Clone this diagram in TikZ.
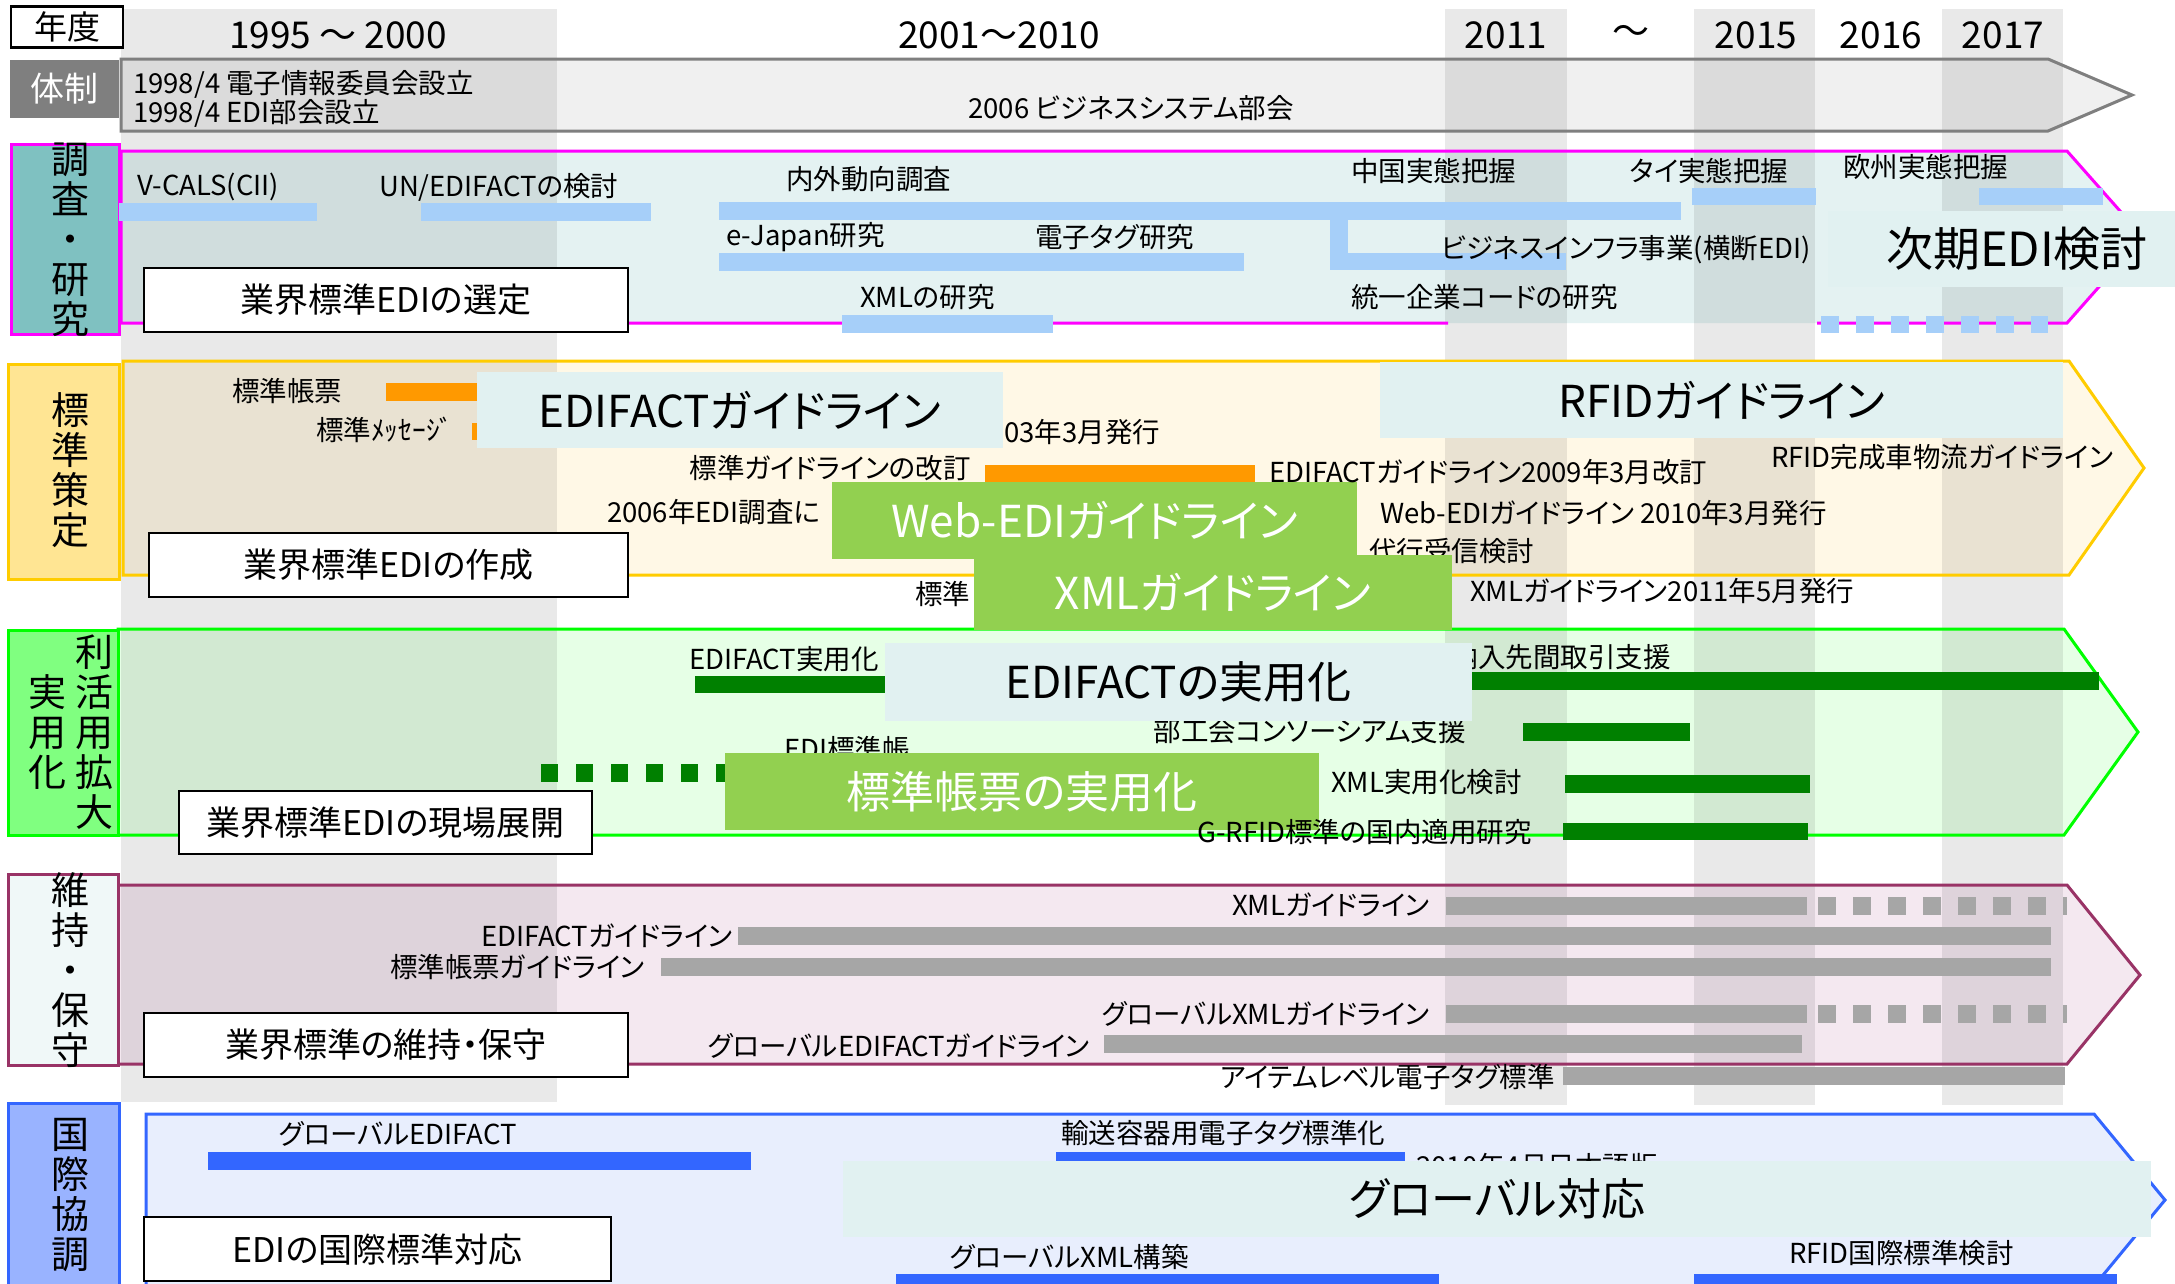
\documentclass[tikz,border=0pt]{standalone}
\usepackage{fontspec}
\setmainfont{Noto Sans CJK JP}[RawFeature=+palt]
\newcommand\fsz[1]{\fontsize{#1pt}{#1pt}\selectfont}
\definecolor{cGrayLab}{HTML}{7F7F7F}
\definecolor{cGrayFill}{HTML}{F0F0F0}
\definecolor{cMag}{HTML}{FF00FF}
\definecolor{cTealLab}{HTML}{7FC1C1}
\definecolor{cTealRow}{HTML}{E4F2F2}
\definecolor{cTealBox}{HTML}{E1F1F1}
\definecolor{cLtBlue}{HTML}{A6CFF9}
\definecolor{cGold}{HTML}{FFCC00}
\definecolor{cYelLab}{HTML}{FFE593}
\definecolor{cYelRow}{HTML}{FFF8E6}
\definecolor{cOrange}{HTML}{FF9900}
\definecolor{cLGreen}{HTML}{92D050}
\definecolor{cGreenLine}{HTML}{00FF00}
\definecolor{cGreenLab}{HTML}{80FF80}
\definecolor{cGreenRow}{HTML}{E6FFE6}
\definecolor{cDGreen}{HTML}{008000}
\definecolor{cPlum}{HTML}{993366}
\definecolor{cPlumLab}{HTML}{F0F8F8}
\definecolor{cPlumRow}{HTML}{F4E8F0}
\definecolor{cBarGray}{HTML}{A6A6A6}
\definecolor{cBlue}{HTML}{3366FF}
\definecolor{cBlueLab}{HTML}{99B3FF}
\definecolor{cBlueRow}{HTML}{E8EEFD}
\begin{document}
\begin{tikzpicture}[x=1pt,y=-1pt,
  t/.style={inner sep=0pt,font=\fsz{27.5}},
  tw/.style={t,anchor=west},
  te/.style={t,anchor=east},
  yr/.style={inner sep=0pt,font=\fsz{37}},
  wbox/.style={draw=black,line width=2.5pt,fill=white,inner sep=0pt,font=\fsz{34}},
  bbox/.style={inner sep=0pt,font=\fsz{44},minimum height=76pt},
  vlab/.style={inner sep=0pt,align=center,font=\fontsize{38pt}{40pt}\selectfont},
  stripe/.style={fill=black,fill opacity=0.085},
  rowb/.style={line width=3pt,line join=miter},
  dashbar/.style={line width=18pt,dash pattern=on 18pt off 17pt}
]
\useasboundingbox (0,0) rectangle (2175,1283);
\clip (0,0) rectangle (2175,1283);
\fill[white] (0,0) rectangle (2175,1283);

% ---- row fills
\fill[cGrayFill] (121,59) -- (2048,59) -- (2132,95) -- (2048,131) -- (121,131) -- cycle;
\fill[cTealRow] (121,151) -- (2067,151) -- (2143,237) -- (2067,323) -- (121,323) -- cycle;
\fill[cYelRow] (123,361) -- (2069,361) -- (2144,468) -- (2069,575) -- (123,575) -- cycle;
\fill[cGreenRow] (118,629) -- (2064,629) -- (2138,732) -- (2064,835) -- (118,835) -- cycle;
\fill[cPlumRow] (118,885) -- (2067,885) -- (2140,975) -- (2067,1064) -- (118,1064) -- cycle;
\fill[cBlueRow] (146,1114) -- (2094,1114) -- (2165,1200) -- (2094,1286) -- (146,1286) -- cycle;

% ---- period stripes
\fill[stripe] (121,9) rectangle (557,1102);
\fill[stripe] (1445,9) rectangle (1567,1105);
\fill[stripe] (1694,9) rectangle (1815,1105);
\fill[stripe] (1942,9) rectangle (2063,1105);

% ---- row borders
\draw[rowb,cGrayLab] (121,59) -- (2048,59) -- (2132,95) -- (2048,131) -- (121,131) -- cycle;
\draw[rowb,cMag] (1448,323) -- (121,323) -- (121,151) -- (2067,151) -- (2143,237) -- (2067,323) -- (1817,323);
\draw[rowb,cGold] (123,361) -- (2069,361) -- (2144,468) -- (2069,575) -- (123,575) -- cycle;
\draw[rowb,cGreenLine] (118,629) -- (2064,629) -- (2138,732) -- (2064,835) -- (118,835) -- cycle;
\draw[rowb,cPlum] (118,885) -- (2067,885) -- (2140,975) -- (2067,1064) -- (118,1064) -- cycle;
\draw[rowb,cBlue] (146,1290) -- (146,1114) -- (2094,1114) -- (2165,1200) -- (2094,1286);

% ---- header
\node[draw=black,line width=2.5pt,fill=white,inner sep=0pt,minimum width=112pt,minimum height=41pt,font=\fsz{33}] (nendo) at (67,27) {年度};
\node[yr] (y1) at (338,35) {1995 ～ 2000};
\node[yr] (y2) at (999,35) {2001～2010};
\node[yr] (y3) at (1506,35) {2011};
\node[yr] (y4) at (1631,35) {～};
\node[yr] (y5) at (1756,35) {2015};
\node[yr] (y6) at (1881,35) {2016};
\node[yr] (y7) at (2003,35) {2017};

% ---- labels
\node[fill=cGrayLab,inner sep=0pt,minimum width=109pt,minimum height=58pt,text=white,font=\fsz{34}] (ltai) at (64.5,89) {体制};
\draw[rowb,cMag,fill=cTealLab] (11,144) rectangle (119,334);
\node[vlab] (lres) at (70,240) {調\\査\\・\\研\\究};
\draw[rowb,cGold,fill=cYelLab] (8,364) rectangle (119,579);
\node[vlab] (lstd) at (70,470) {標\\準\\策\\定};
\draw[rowb,cGreenLine,fill=cGreenLab] (8,630) rectangle (118,835);
\node[vlab] (luse1) at (47,732) {実\\用\\化};
\node[vlab] (luse2) at (94,732) {利\\活\\用\\拡\\大};
\draw[rowb,cPlum,fill=cPlumLab] (8,874) rectangle (118,1065);
\node[vlab] (lmnt) at (70,970) {維\\持\\・\\保\\守};
\draw[rowb,cBlue,fill=cBlueLab] (8,1103) rectangle (119,1295);
\node[vlab] (lint) at (70,1195) {国\\際\\協\\調};

% ---- 体制 row
\node[tw] (t01) at (133,84) {1998/4 電子情報委員会設立};
\node[tw] (t02) at (133,113) {1998/4 EDI部会設立};
\node[t] (t03) at (1131,108) {2006 ビジネスシステム部会};

% ---- 調査・研究 row
\fill[cLtBlue] (119,203) rectangle (317,221);
\fill[cLtBlue] (421,203) rectangle (651,221);
\fill[cLtBlue] (719,202) rectangle (1681,220);
\fill[cLtBlue] (1330,220) rectangle (1348,270);
\fill[cLtBlue] (1330,253) rectangle (1566,270);
\fill[cLtBlue] (719,253) rectangle (1244,271);
\fill[cLtBlue] (842,315) rectangle (1053,333);
\fill[cLtBlue] (1692,188) rectangle (1816,205);
\fill[cLtBlue] (1979,188) rectangle (2103,205);
\draw[cLtBlue,line width=17pt,dash pattern=on 18pt off 17pt] (1821,324) -- (2048,324);
\node[tw] (r1) at (137,187) {V-CALS(CII)};
\node[tw] (r2) at (379,187) {UN/EDIFACTの検討};
\node[tw] (r3) at (786,179) {内外動向調査};
\node[tw] (r4) at (726,237) {e-Japan研究};
\node[tw] (r5) at (1035,237) {電子タグ研究};
\node[tw] (r6) at (860,297) {XMLの研究};
\node[tw] (r7) at (1351,171) {中国実態把握};
\node[tw] (r8) at (1630,171) {タイ実態把握};
\node[tw] (r9) at (1843,167) {欧州実態把握};
\node[tw] (r10) at (1441,250) {ビジネスインフラ事業(横断EDI)};
\node[tw] (r11) at (1351,297) {統一企業コードの研究};
\node[bbox,fill=cTealBox,minimum width=378pt,font=\fsz{47}] (bnext) at (2017,249) {次期EDI検討};
\node[wbox,minimum width=484pt,minimum height=64pt] (wsel) at (386,300) {業界標準EDIの選定};

% ---- 標準策定 row
\fill[cOrange] (386,383) rectangle (480,401);
\fill[cOrange] (472,423) rectangle (490,440);
\fill[cOrange] (985,465) rectangle (1255,482);
\node[tw] (s1) at (232,391) {標準帳票};
\node[tw] (s2) at (316,430) {標準ﾒｯｾｰｼﾞ};
\node[bbox,fill=cTealBox,minimum width=526pt] (bedi) at (740,410) {EDIFACTガイドライン};
\node[tw] (s3) at (1004,432) {03年3月発行};
\node[te] (s4) at (971,468) {標準ガイドラインの改訂};
\node[tw] (s5) at (607,512) {2006年EDI調査に};
\node[bbox,fill=cLGreen,text=white,minimum width=525pt,minimum height=77pt] (bweb) at (1094.5,520.5) {Web-EDIガイドライン};
\node[tw] (s6) at (915,594) {標準};
\node[tw] (s7) at (1369,551) {代行受信検討};
\node[bbox,fill=cLGreen,text=white,minimum width=478pt,minimum height=75pt] (bxml) at (1213,592.5) {XMLガイドライン};
\node[tw] (s8) at (1269,472) {EDIFACTガイドライン2009年3月改訂};
\node[bbox,fill=cTealBox,minimum width=683pt] (brfid) at (1721.5,400) {RFIDガイドライン};
\node[tw] (s9) at (1771,457) {RFID完成車物流ガイドライン};
\node[tw] (s10) at (1380,513) {Web-EDIガイドライン 2010年3月発行};
\node[tw] (s11) at (1470,591) {XMLガイドライン2011年5月発行};
\node[wbox,minimum width=479pt,minimum height=64pt] (wmake) at (388.5,565) {業界標準EDIの作成};

% ---- 利活用拡大 row
\fill[cDGreen] (695,676) rectangle (900,693);
\fill[cDGreen] (1471,672) rectangle (2099,690);
\fill[cDGreen] (1523,723) rectangle (1690,741);
\fill[cDGreen] (1565,775) rectangle (1810,793);
\fill[cDGreen] (1563,823) rectangle (1808,840);
\draw[cDGreen,line width=18pt,dash pattern=on 17pt off 18pt] (541,773) -- (730,773);
\node[tw] (u1) at (689,659) {EDIFACT実用化};
\node[te] (u2) at (1671,657) {納入先間取引支援};
\node[te] (u3) at (1466,731) {部工会コンソーシアム支援};
\node[bbox,fill=cTealBox,minimum width=587pt,minimum height=78pt] (bedu) at (1178.5,682) {EDIFACTの実用化};
\node[tw] (u4) at (784,749) {EDI標準帳};
\node[bbox,fill=cLGreen,text=white,minimum width=594pt,minimum height=77pt] (bform) at (1022,791.5) {標準帳票の実用化};
\node[tw] (u5) at (1331,782) {XML実用化検討};
\node[tw] (u6) at (1197,832) {G-RFID標準の国内適用研究};
\node[wbox,minimum width=413pt,minimum height=63pt] (wfield) at (385.5,822.5) {業界標準EDIの現場展開};

% ---- 維持・保守 row
\fill[cBarGray] (1446,897) rectangle (1807,915);
\fill[cBarGray] (738,927) rectangle (2051,945);
\fill[cBarGray] (661,958) rectangle (2051,976);
\fill[cBarGray] (1446,1005) rectangle (1807,1023);
\fill[cBarGray] (1104,1035) rectangle (1802,1053);
\fill[cBarGray] (1563,1067) rectangle (2065,1085);
\draw[cBarGray,dashbar] (1818,906) -- (2067,906);
\draw[cBarGray,dashbar] (1818,1014) -- (2067,1014);
\node[te] (m1) at (1430,905) {XMLガイドライン};
\node[te] (m2) at (733,936) {EDIFACTガイドライン};
\node[te] (m3) at (645,967) {標準帳票ガイドライン};
\node[te] (m4) at (1430,1014) {グローバルXMLガイドライン};
\node[te] (m5) at (1090,1046) {グローバルEDIFACTガイドライン};
\node[te] (m6) at (1555,1077) {アイテムレベル電子タグ標準};
\node[wbox,minimum width=484pt,minimum height=64pt] (wmnt) at (386,1045) {業界標準の維持・保守};

% ---- 国際協調 row
\fill[cBlue] (208,1152) rectangle (751,1170);
\fill[cBlue] (1056,1152) rectangle (1405,1170);
\fill[cBlue] (896,1274) rectangle (1439,1295);
\fill[cBlue] (1694,1274) rectangle (2117,1295);
\node[tw] (g1) at (279,1134) {グローバルEDIFACT};
\node[tw] (g2) at (1061,1133) {輸送容器用電子タグ標準化};
\node[tw] (g3) at (1416,1166) {2010年4月日本語版};
\node[bbox,fill=cTealBox,minimum width=1308pt] (bglob) at (1497,1199) {グローバル対応};
\node[tw] (g4) at (950,1257) {グローバルXML構築};
\node[tw] (g5) at (1789,1253) {RFID国際標準検討};
\node[wbox,minimum width=467pt,minimum height=64pt] (wint) at (377.5,1249) {EDIの国際標準対応};
\end{tikzpicture}
\end{document}
